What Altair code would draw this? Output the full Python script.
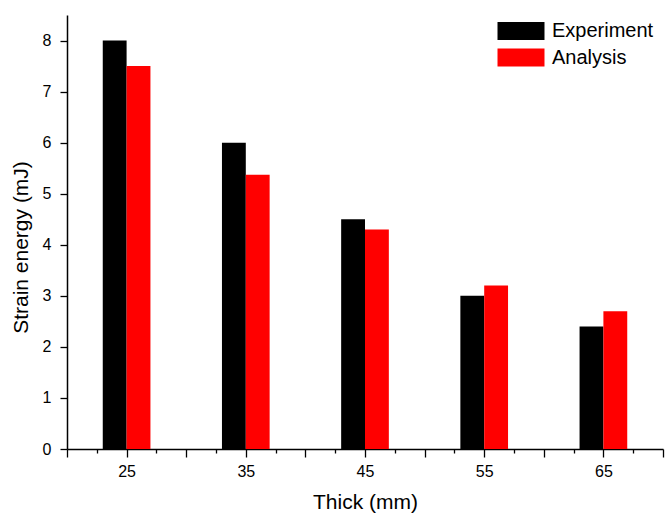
import altair as alt
import pandas as pd

thick = [25, 35, 45, 55, 65]
experiment = [8.0, 6.0, 4.5, 3.0, 2.4]
analysis = [7.5, 5.37, 4.3, 3.2, 2.7]
series = ["Experiment", "Analysis"]
colors = ["#000000", "#FF0000"]

y_ticks = [0, 0.5, 1, 1.5, 2, 2.5, 3, 3.5, 4, 4.5, 5, 5.5, 6, 6.5, 7, 7.5, 8, 8.5]
x_ticks = [20, 22.5, 25, 27.5, 30, 32.5, 35, 37.5, 40, 42.5, 45, 47.5, 50,
           52.5, 55, 57.5, 60, 62.5, 65, 67.5, 70]
x_labels = [25, 35, 45, 55, 65]

rows = []
for t, e, a in zip(thick, experiment, analysis):
    rows.append({"thick": t, "series": series[0], "value": e})
    rows.append({"thick": t, "series": series[1], "value": a})
df = pd.DataFrame(rows)

W, H = 596, 434
FONT = "Liberation Sans"

xscale = alt.Scale(domain=[20, 70], nice=False, zero=False)
yscale = alt.Scale(domain=[0, 8.5], nice=False, zero=True)

label_test = " || ".join(f"datum.value == {v}" for v in x_labels)

chart = alt.Chart(df).transform_calculate(
    x0="datum.series == 'Experiment' ? datum.thick - 2 : datum.thick",
    x1="datum.series == 'Experiment' ? datum.thick : datum.thick + 2",
).mark_rect().encode(
    x=alt.X("x0:Q", scale=xscale, axis=alt.Axis(
        values=x_ticks, labelExpr=f"({label_test}) ? datum.label : ''",
        title="Thick (mm)",
        tickSize={"condition": {"test": "datum.value % 5 != 0", "value": 4}, "value": 8},
        tickWidth=1.3, domainWidth=1.5,
        domainColor="black", tickColor="black", labelColor="black",
        labelFontSize=16, labelPadding=6, labelFont=FONT,
        titleFont=FONT, titleFontSize=21, titleFontWeight="normal",
        titleColor="black", titlePadding=12, grid=False)),
    x2="x1:Q",
    y=alt.Y("value:Q", scale=yscale, axis=alt.Axis(
        values=y_ticks, format="d",
        labelExpr="datum.value % 1 == 0 ? datum.label : ''",
        title="Strain energy (mJ)",
        tickSize={"condition": {"test": "datum.value % 1 != 0", "value": 4}, "value": 7},
        tickWidth=1.3,
        domainWidth=1.5, domainColor="black", tickColor="black",
        labelColor="black", labelFontSize=16, labelPadding=9, labelFont=FONT,
        titleFont=FONT, titleFontSize=21, titleFontWeight="normal",
        titleColor="black", titleX=-46, titleY=232, titleAlign="center",
        titleBaseline="middle", titleAngle=270, grid=False)),
    y2=alt.datum(0),
    color=alt.Color("series:N", scale=alt.Scale(domain=series, range=colors),
                    sort=series,
                    legend=alt.Legend(
                        title=None, orient="none", legendX=442, legendY=4,
                        symbolType="M-2,-0.76H2V0.76H-2Z", symbolSize=552,
                        symbolStrokeWidth=0, symbolOpacity=1,
                        labelFontSize=20, labelFont=FONT, labelColor="black",
                        labelOffset=19, rowPadding=4.5, padding=0)),
).properties(
    width=W, height=H,
    padding={"left": 67, "top": 15, "right": 4, "bottom": 71},
    autosize=alt.AutoSizeParams(type="none"),
    background="white",
).configure_view(stroke=None)

chart.save("out.html", embed_options={"renderer": "svg", "actions": False})
